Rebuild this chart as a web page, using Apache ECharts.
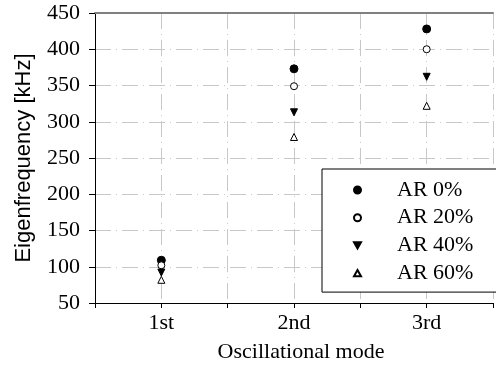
<!DOCTYPE html>
<html><head><meta charset="utf-8">
<script src="https://cdn.jsdelivr.net/npm/echarts@6/dist/echarts.min.js"></script>
<style>html,body{margin:0;padding:0;background:#fff}#c{width:496px;height:371px}</style>
</head><body><div id="c"></div>
<script>
const categories = ['1st', '2nd', '3rd'];
const seriesNames = ['AR 0%', 'AR 20%', 'AR 40%', 'AR 60%'];
const ar0 = [109, 373, 428];
const ar20 = [102, 349, 400];
const ar40 = [92, 313, 362];
const ar60 = [82, 279, 322];
const yTicks = [50, 100, 150, 200, 250, 300, 350, 400, 450];

const serif = 'Liberation Serif';
const toPts = arr => arr.map((v, i) => [i + 1, v]);
const styles = [
  {symbol: 'circle', size: 8, rot: 0, fill: '#000', icon: 'circle'},
  {symbol: 'circle', size: 7, rot: 0, fill: '#fff', icon: 'circle'},
  {symbol: 'triangle', size: 7, rot: 180, fill: '#000', icon: 'path://M0,0L10,0L5,9Z'},
  {symbol: 'triangle', size: 7, rot: 0, fill: '#fff', icon: 'path://M5,0L10,9L0,9Z'}
];
const data = [ar0, ar20, ar40, ar60];
const chart = echarts.init(document.getElementById('c'));
chart.setOption({
  animation: false,
  grid: {left: 95, right: -3, top: 13, bottom: 68},
  xAxis: [{
    type: 'value', min: 0.5, max: 3.5, interval: 0.5,
    name: 'Oscillational mode', nameLocation: 'middle', nameGap: 38,
    nameTextStyle: {fontFamily: serif, fontSize: 22, color: '#000', padding: [0, 0, 0, 14]},
    axisLine: {show: true, lineStyle: {color: '#000', width: 1}},
    axisTick: {show: true, length: 5, lineStyle: {color: '#000'}},
    axisLabel: {fontFamily: serif, fontSize: 22, color: '#000', margin: 9,
      formatter: v => Number.isInteger(v) ? categories[v - 1] : ''},
    splitLine: {show: true, lineStyle: {color: '#c8c8c8', type: [16, 5, 1, 5]}}
  }, {
    type: 'value', min: 0.5, max: 3.5, position: 'top',
    axisLine: {show: true, lineStyle: {color: '#808080', width: 2}},
    axisTick: {show: false}, axisLabel: {show: false}, splitLine: {show: false}
  }],
  yAxis: {
    type: 'value', min: yTicks[0], max: yTicks[yTicks.length - 1], interval: 50,
    name: 'Eigenfrequency [kHz]', nameLocation: 'middle', nameGap: 60,
    nameTextStyle: {fontFamily: 'Liberation Sans', fontSize: 22, color: '#000'},
    axisLine: {show: true, lineStyle: {color: '#000'}},
    axisTick: {show: true, length: 6, lineStyle: {color: '#000'}},
    axisLabel: {fontFamily: serif, fontSize: 22, color: '#000', margin: 15},
    splitLine: {show: true, lineStyle: {color: '#c8c8c8', type: [16, 5, 1, 5]}}
  },
  legend: {
    orient: 'vertical', left: 322, top: 169,
    padding: [10, 30, 8, 31],
    backgroundColor: '#fff', borderColor: '#000', borderWidth: 1,
    itemWidth: 7, itemHeight: 7, itemGap: 5.7,
    textStyle: {fontFamily: serif, fontSize: 22, color: '#000', lineHeight: 22, padding: [0, 0, 0, 31]},
    data: seriesNames.map((n, k) => ({name: n, icon: styles[k].icon}))
  },
  series: data.map((d, k) => ({
    name: seriesNames[k], type: 'scatter', data: toPts(d),
    symbol: styles[k].symbol, symbolSize: styles[k].size, symbolRotate: styles[k].rot,
    itemStyle: {color: styles[k].fill, borderColor: '#000', borderWidth: 1, opacity: 1},
    z: 3
  }))
});
</script></body></html>
